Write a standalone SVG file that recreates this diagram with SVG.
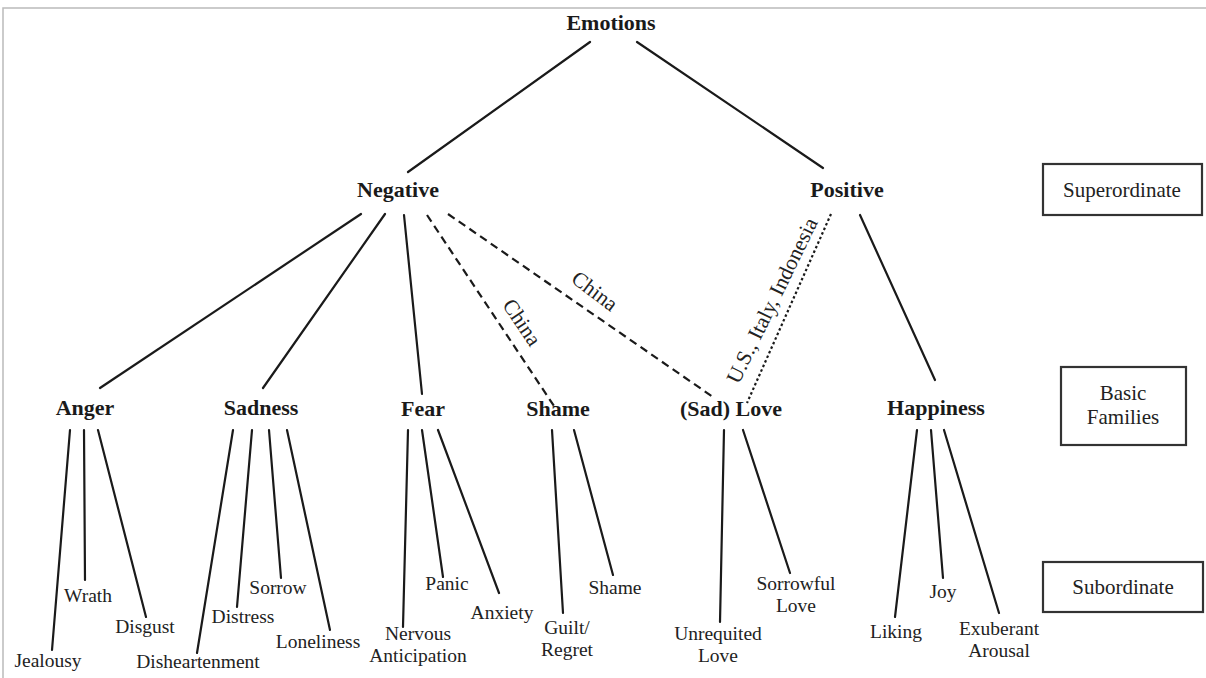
<svg xmlns="http://www.w3.org/2000/svg" width="1206" height="678" viewBox="0 0 1206 678">
<style>
.t{font-family:"Liberation Serif","Times New Roman",serif;font-weight:bold;font-size:22px;fill:#1a1a1a;text-anchor:middle}
.s{font-family:"Liberation Serif","Times New Roman",serif;font-size:19.5px;fill:#222;text-anchor:middle}
.r{font-family:"Liberation Serif","Times New Roman",serif;font-size:21.5px;fill:#222;text-anchor:middle}
.b{font-family:"Liberation Serif","Times New Roman",serif;font-size:21px;fill:#222;text-anchor:middle}
.l{stroke:#1a1a1a;stroke-width:2.2;fill:none;stroke-linecap:round}
.d{stroke:#1a1a1a;stroke-width:2.2;fill:none;stroke-dasharray:8 5}
.o{stroke:#1a1a1a;stroke-width:2.2;fill:none;stroke-dasharray:2.5 2.5}
.box{fill:#fff;stroke:#333;stroke-width:2.2}
</style>
<rect width="1206" height="678" fill="#fff"/>
<path d="M3,678 V8 H1206" fill="none" stroke="#bbb" stroke-width="1.5"/>
<g id="connectors">
<line class="l" x1="590" y1="42" x2="408" y2="172"/>
<line class="l" x1="637" y1="42" x2="823" y2="168"/>
<line class="l" x1="361" y1="214" x2="100" y2="388"/>
<line class="l" x1="385" y1="214" x2="263" y2="388"/>
<line class="l" x1="404" y1="215" x2="422" y2="394"/>
<line class="d" x1="427" y1="215" x2="554" y2="406"/>
<line class="d" x1="448" y1="214" x2="713" y2="397"/>
<line class="o" x1="831" y1="214" x2="747" y2="403"/>
<line class="l" x1="860" y1="215" x2="935" y2="380"/>
<line class="l" x1="70" y1="430" x2="52" y2="650"/>
<line class="l" x1="84" y1="430" x2="85" y2="580"/>
<line class="l" x1="98" y1="430" x2="146" y2="617"/>
<line class="l" x1="233" y1="430" x2="197" y2="653"/>
<line class="l" x1="252" y1="430" x2="237" y2="607"/>
<line class="l" x1="269" y1="430" x2="281" y2="578"/>
<line class="l" x1="287" y1="430" x2="330" y2="630"/>
<line class="l" x1="408" y1="430" x2="403" y2="627"/>
<line class="l" x1="422" y1="430" x2="443" y2="577"/>
<line class="l" x1="438" y1="430" x2="499" y2="593"/>
<line class="l" x1="552" y1="430" x2="563" y2="613"/>
<line class="l" x1="574" y1="430" x2="613" y2="575"/>
<line class="l" x1="724" y1="430" x2="720" y2="622"/>
<line class="l" x1="743" y1="430" x2="790" y2="573"/>
<line class="l" x1="917" y1="430" x2="895" y2="617"/>
<line class="l" x1="931" y1="430" x2="943" y2="578"/>
<line class="l" x1="944" y1="430" x2="999" y2="613"/>
<text class="r" transform="translate(594,292) rotate(37)" y="6">China</text>
<text class="r" transform="translate(521,323) rotate(56)" y="6">China</text>
<text class="r" transform="translate(773,301) rotate(-64)" y="6">U.S., Italy, Indonesia</text>
</g>
<g id="emotions"><text class="t" x="611" y="30">Emotions</text></g>
<g id="negative"><text class="t" x="398" y="197">Negative</text></g>
<g id="positive"><text class="t" x="847" y="197">Positive</text></g>
<g id="anger"><text class="t" x="85" y="415">Anger</text></g>
<g id="sadness"><text class="t" x="261" y="415">Sadness</text></g>
<g id="fear"><text class="t" x="423" y="416">Fear</text></g>
<g id="shame"><text class="t" x="558" y="416">Shame</text></g>
<g id="sad-love"><text class="t" x="731" y="416">(Sad) Love</text></g>
<g id="happiness"><text class="t" x="936" y="415">Happiness</text></g>
<g id="jealousy"><text class="s" x="48" y="667">Jealousy</text></g>
<g id="wrath"><text class="s" x="88" y="602">Wrath</text></g>
<g id="disgust"><text class="s" x="145" y="633">Disgust</text></g>
<g id="disheartenment"><text class="s" x="198" y="668">Disheartenment</text></g>
<g id="distress"><text class="s" x="243" y="623">Distress</text></g>
<g id="sorrow"><text class="s" x="278" y="594">Sorrow</text></g>
<g id="loneliness"><text class="s" x="318" y="648">Loneliness</text></g>
<g id="nervous-anticipation"><text class="s" x="418" y="640">Nervous</text><text class="s" x="418" y="662">Anticipation</text></g>
<g id="panic"><text class="s" x="447" y="590">Panic</text></g>
<g id="anxiety"><text class="s" x="502" y="619">Anxiety</text></g>
<g id="guilt-regret"><text class="s" x="567" y="634">Guilt/</text><text class="s" x="567" y="656">Regret</text></g>
<g id="shame-sub"><text class="s" x="615" y="594">Shame</text></g>
<g id="unrequited-love"><text class="s" x="718" y="640">Unrequited</text><text class="s" x="718" y="662">Love</text></g>
<g id="sorrowful-love"><text class="s" x="796" y="590">Sorrowful</text><text class="s" x="796" y="612">Love</text></g>
<g id="liking"><text class="s" x="896" y="638">Liking</text></g>
<g id="joy"><text class="s" x="943" y="598">Joy</text></g>
<g id="exuberant-arousal"><text class="s" x="999" y="635">Exuberant</text><text class="s" x="999" y="657">Arousal</text></g>
<g id="superordinate"><rect class="box" x="1043" y="164" width="159" height="51"/><text class="b" x="1122" y="197">Superordinate</text></g>
<g id="basic-families"><rect class="box" x="1061" y="367" width="125" height="78"/><text class="b" x="1123" y="400">Basic</text><text class="b" x="1123" y="424">Families</text></g>
<g id="subordinate"><rect class="box" x="1043" y="562" width="160" height="50"/><text class="b" x="1123" y="594">Subordinate</text></g>
</svg>
